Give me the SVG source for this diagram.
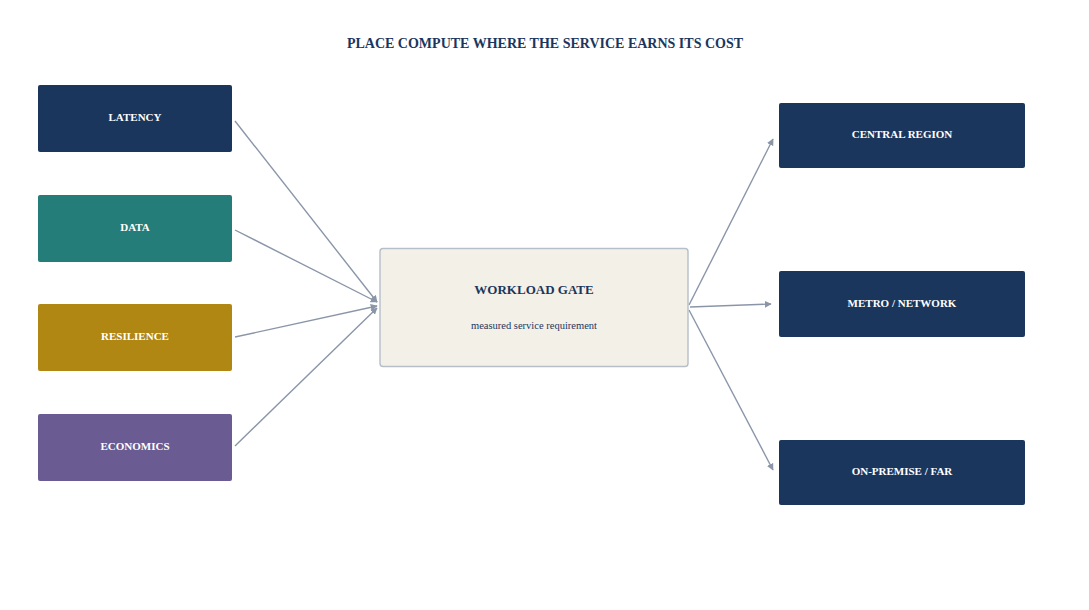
<svg xmlns="http://www.w3.org/2000/svg" width="1089" height="610" viewBox="0 0 1089 610">
<style>
.lbl{font-family:"Liberation Serif","Times New Roman",serif;font-weight:bold;font-size:11px;fill:#ffffff;text-anchor:middle}
.title{font-family:"Liberation Serif","Times New Roman",serif;font-weight:bold;font-size:14px;fill:#1b365d;text-anchor:middle}
.gt{font-family:"Liberation Serif","Times New Roman",serif;font-weight:bold;font-size:13px;fill:#1b365d;text-anchor:middle}
.gs{font-family:"Liberation Serif","Times New Roman",serif;font-size:10.5px;fill:#1b365d;text-anchor:middle}
.edge{stroke:#8a96a8;stroke-width:1.4;fill:none;marker-end:url(#ah)}
</style>
<defs>
<marker id="ah" viewBox="0 0 10 10" refX="9" refY="5" markerWidth="5" markerHeight="5" orient="auto" markerUnits="strokeWidth">
<path d="M0,0 L10,5 L0,10 z" fill="#8a96a8"/>
</marker>
</defs>
<rect width="1089" height="610" fill="#ffffff"/>
<text class="title" x="545" y="48">PLACE COMPUTE WHERE THE SERVICE EARNS ITS COST</text>
<g id="connectors">
<line class="edge" x1="235" y1="121" x2="377" y2="302"/>
<line class="edge" x1="235" y1="230" x2="377" y2="302"/>
<line class="edge" x1="235" y1="337" x2="377" y2="306"/>
<line class="edge" x1="235" y1="446" x2="377" y2="308"/>
<line class="edge" x1="689" y1="305" x2="773" y2="139"/>
<line class="edge" x1="690" y1="307" x2="771" y2="304"/>
<line class="edge" x1="689" y1="310" x2="773" y2="470"/>
</g>
<g id="latency"><rect x="38" y="85" width="194" height="67" rx="2" fill="#1b365d"/><text class="lbl" x="135" y="121">LATENCY</text></g>
<g id="data"><rect x="38" y="195" width="194" height="67" rx="2" fill="#247d78"/><text class="lbl" x="135" y="231">DATA</text></g>
<g id="resilience"><rect x="38" y="304" width="194" height="67" rx="2" fill="#b18713"/><text class="lbl" x="135" y="340">RESILIENCE</text></g>
<g id="economics"><rect x="38" y="414" width="194" height="67" rx="2" fill="#6a5b93"/><text class="lbl" x="135" y="450">ECONOMICS</text></g>
<g id="gate"><rect x="380" y="248.5" width="308" height="118" rx="3" fill="#f3f0e8" stroke="#b6bec9" stroke-width="1.4"/>
<text class="gt" x="534" y="294">WORKLOAD GATE</text>
<text class="gs" x="534" y="329">measured service requirement</text></g>
<g id="central"><rect x="779" y="103" width="246" height="65" rx="2" fill="#1b365d"/><text class="lbl" x="902" y="138">CENTRAL REGION</text></g>
<g id="metro"><rect x="779" y="271" width="246" height="66" rx="2" fill="#1b365d"/><text class="lbl" x="902" y="307">METRO / NETWORK</text></g>
<g id="onprem"><rect x="779" y="440" width="246" height="65" rx="2" fill="#1b365d"/><text class="lbl" x="902" y="475">ON-PREMISE / FAR</text></g>
</svg>
